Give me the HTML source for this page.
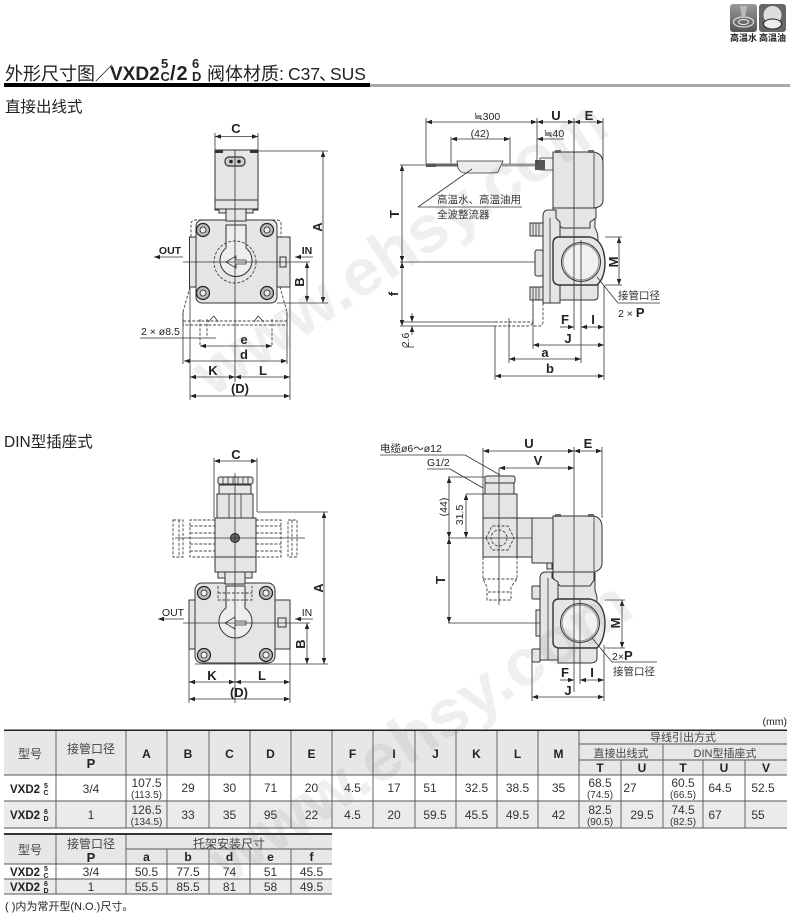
<!DOCTYPE html>
<html><head><meta charset="utf-8">
<style>
html,body{margin:0;padding:0;background:#fff;width:790px;height:924px;overflow:hidden}
svg{display:block;filter:blur(.3px)}
text{font-family:"Liberation Sans","Noto Sans CJK SC",sans-serif;fill:#222}
.b{font-weight:bold}
.m{text-anchor:middle}
.d line,.d path.l{stroke:#333;stroke-width:.8;fill:none}
.dim{marker-start:url(#a);marker-end:url(#a)}
.o{stroke:#333;stroke-width:1;fill:#e5e5e5}
.s{stroke:#333;stroke-width:.8;fill:none}
.da{stroke:#444;stroke-width:.9;fill:none;stroke-dasharray:3 1.6}
.t line{stroke:#555;stroke-width:.9}
.lab{font-size:13px;font-weight:bold}
.cn{font-size:10.5px;fill:#333}
.tn{font-size:12px;text-anchor:middle;fill:#333}
.th{font-size:12px;font-weight:bold;text-anchor:middle}
.ts{font-size:10px;text-anchor:middle;fill:#333}
.tc{font-size:12px;text-anchor:middle;fill:#444}
</style></head><body>
<svg width="790" height="924" viewBox="0 0 790 924" xmlns="http://www.w3.org/2000/svg">
<defs>
<marker id="a" viewBox="0 0 8 6" refX="8" refY="3" markerWidth="6" markerHeight="4.5" markerUnits="userSpaceOnUse" orient="auto-start-reverse"><path d="M0 0L8 3L0 6z" fill="#222"/></marker>
<linearGradient id="g2" x1="0" y1="0" x2="0" y2="1"><stop offset="0" stop-color="#999"/><stop offset="1" stop-color="#555"/></linearGradient>
</defs>

<!-- icons -->
<rect x="730" y="4" width="27" height="28" rx="3" fill="url(#g2)"/>
<ellipse cx="743.500" cy="22" rx="10" ry="5" fill="none" stroke="#ddd" stroke-width="1.2"/>
<ellipse cx="743.500" cy="22" rx="5" ry="2.500" fill="none" stroke="#eee" stroke-width="1"/>
<path d="M740 6h7l-2 12h-3z" fill="#bbb"/>
<rect x="759" y="4" width="27" height="28" rx="3" fill="#666"/>
<ellipse cx="772.500" cy="15" rx="9" ry="9" fill="#ddd"/>
<ellipse cx="772.500" cy="24" rx="9" ry="5" fill="#eee" stroke="#222"/>
<text x="743.500" y="41" class="m" style="font-size:9px;font-weight:bold">高温水</text>
<text x="772.500" y="41" class="m" style="font-size:9px;font-weight:bold">高温油</text>

<!-- title -->
<text x="5" y="80" style="font-size:18px">外形尺寸图</text>
<text x="95" y="80" style="font-size:18px">／</text>
<text x="110" y="80" class="b" style="font-size:19px">VXD2</text>
<text x="161" y="68" class="b" style="font-size:13px">5</text>
<text x="160.500" y="81" class="b" style="font-size:13px">C</text>
<text x="170" y="80" class="b" style="font-size:20px;letter-spacing:1px">/2</text>
<text x="192" y="68" class="b" style="font-size:13px">6</text>
<text x="192" y="81" class="b" style="font-size:13px">D</text>
<text x="207" y="80" style="font-size:18px">阀体材质</text>
<text x="279" y="80" style="font-size:18px">:</text>
<text x="288" y="80" style="font-size:17.500px">C37</text>
<text x="319" y="80" style="font-size:17.500px">、</text>
<text x="330" y="80" style="font-size:17.500px">SUS</text>
<rect x="4" y="83" width="366" height="4" fill="#000"/>
<rect x="370" y="84" width="420" height="3" fill="#a8a8a8"/>
<text x="5" y="112" style="font-size:15.500px">直接出线式</text>
<text x="4" y="447" style="font-size:15.500px">DIN型插座式</text>

<!-- FRONT VIEW 1 -->
<g>
<path class="da" d="M190 287L183 312V325H287V312L280 287M183 321H287"/>
<path class="da" d="M191 237V224Q191 220 196 220H277Q281 220 281 224V237"/>
<rect class="o" x="189.500" y="237" width="8" height="50"/>
<rect class="o" x="275" y="237" width="15" height="50"/>
<rect class="o" x="196" y="220" width="81" height="83" rx="6"/>
<rect class="o" x="215" y="150" width="43" height="60"/>
<rect class="o" x="215" y="200" width="43" height="9"/>
<rect x="215" y="150" width="8" height="3" fill="#333"/><rect x="250" y="150" width="8" height="3" fill="#333"/>
<rect class="o" x="226" y="209" width="20" height="12"/>
<rect class="o" x="219" y="209" width="7" height="4"/><rect class="o" x="246" y="209" width="7" height="4"/>
<rect x="225" y="157" width="20" height="9" rx="4" fill="#ccc" stroke="#333" stroke-width="1.200"/>
<circle cx="231" cy="161.500" r="1.800" fill="#222"/><circle cx="239" cy="161.500" r="1.800" fill="#222"/>
<path class="o" style="fill:#eee" d="M226 225H246V248A16 16 0 1 1 226 248z"/>
<circle cx="235" cy="262" r="21" class="da"/>
<path class="s" d="M226 262L236 256V260H246V264H236V268z"/>
<g fill="#bbb" stroke="#222" stroke-width="1.200">
<circle cx="203" cy="230" r="6.500"/><circle cx="267" cy="230" r="6.500"/><circle cx="203" cy="293" r="6.500"/><circle cx="267" cy="293" r="6.500"/></g>
<g fill="#eee" stroke="#222" stroke-width=".8">
<circle cx="203" cy="230" r="3"/><circle cx="267" cy="230" r="3"/><circle cx="203" cy="293" r="3"/><circle cx="267" cy="293" r="3"/></g>
<rect class="o" x="280" y="257" width="6" height="10"/>
<path class="da" d="M200 319V346M207 319V338M272 319V346"/>
<path class="s" d="M208 322L214 316L218 322M254 322L258 316L264 322"/>
</g>
<g class="d">
<line x1="215" y1="133" x2="215" y2="150"/><line x1="258" y1="133" x2="258" y2="150"/>
<line class="dim" x1="215" y1="136.500" x2="258" y2="136.500"/>
<line x1="235" y1="150" x2="235" y2="382" stroke-width="1"/>
<line x1="258" y1="151" x2="328" y2="151"/><line x1="277" y1="303" x2="328" y2="303"/>
<line class="dim" x1="323" y1="151" x2="323" y2="303"/>
<line class="dim" x1="307" y1="262" x2="307" y2="302"/>
<line x1="183" y1="262" x2="310" y2="262"/>
<line x1="154" y1="257" x2="183" y2="257" marker-start="url(#a)"/>
<line x1="295" y1="257" x2="313" y2="257" marker-start="url(#a)"/>
<line x1="140" y1="338" x2="216" y2="338"/>
<line class="dim" x1="200" y1="346" x2="272" y2="346"/>
<line class="dim" x1="184" y1="361" x2="287" y2="361"/>
<line x1="183" y1="312" x2="183" y2="364"/><line x1="287" y1="312" x2="287" y2="364"/>
<line x1="190" y1="287" x2="190" y2="400"/><line x1="290" y1="287" x2="290" y2="400"/>
<line class="dim" x1="190" y1="377" x2="235" y2="377"/><line class="dim" x1="235" y1="377" x2="290" y2="377"/>
<line class="dim" x1="190" y1="396" x2="290" y2="396"/>
</g>
<text x="236" y="133" class="lab m">C</text>
<text x="170" y="254" class="m" style="font-size:10.500px;font-weight:bold">OUT</text>
<text x="307" y="254" class="m" style="font-size:10.500px;font-weight:bold">IN</text>
<text x="141" y="335" style="font-size:10.500px">2 × ø8.5</text>
<text x="244" y="344" class="lab m">e</text>
<text x="244" y="359" class="lab m">d</text>
<text x="213" y="375" class="lab m">K</text>
<text x="263" y="375" class="lab m">L</text>
<text x="240" y="393" class="lab m">(D)</text>
<text transform="translate(322,227) rotate(-90)" class="lab m">A</text>
<text transform="translate(304,282) rotate(-90)" class="lab m">B</text>

<!-- SIDE VIEW 1 -->
<g>
<path class="da" d="M533 300V320Q533 326 527 326H495M543 303V322Q543 326 539 326H533M495 322H533"/>
<path class="o" d="M560 213H595V228Q598 232 598 240V296Q598 300 594 300H560z"/>
<path class="o" d="M553 208H596V218L590 222V228H562L553 219z"/>
<path class="o" d="M548 210H556V218L560 222V303H543V217Q543 210 548 210z"/>
<line x1="550" y1="218" x2="550" y2="303" stroke="#333" stroke-width=".8"/>
<rect class="o" x="535" y="250" width="8" height="26" rx="2"/>
<rect class="o" x="530" y="223" width="13" height="13"/><rect class="o" x="530" y="287" width="13" height="13"/>
<path class="s" d="M533 223V236M536 223V236M539 223V236M533 287V300M536 287V300M539 287V300"/>
<path class="o" style="stroke-width:1.400" d="M559 237H590Q604 240 605 262Q605 278 597 285H560Q553 285 553 278V244Q553 237 559 237z"/>
<circle cx="581" cy="262" r="19.500" fill="#f1f1f1" stroke="#333" stroke-width="1"/>
<circle cx="581" cy="262" r="18" fill="none" stroke="#999" stroke-width="1.200"/>
<path class="o" d="M553 152H594Q603 154 603 163V200Q603 207 594 208H553z"/>
<line x1="594" y1="153" x2="594" y2="208" stroke="#333" stroke-width=".8"/>
<rect x="555" y="150" width="6" height="3" fill="#666"/><rect x="588" y="150" width="6" height="3" fill="#666"/>
<path class="s" d="M553 158H540V170H553"/>
<rect x="535" y="160" width="10" height="10" fill="#555"/>
<rect x="426" y="163.500" width="10" height="3.500" fill="#555"/>
<rect x="436" y="163.500" width="22" height="3" fill="#666"/>
<rect x="502" y="163.500" width="33" height="3" fill="#999"/>
<path class="o" style="fill:#ececec;stroke-width:.8" d="M457 161H503L498 172Q496 173 490 173H466Q460 173 458 168z"/>
</g>
<g class="d">
<line x1="426" y1="118" x2="426" y2="164"/><line x1="537" y1="118" x2="537" y2="163"/>
<line class="dim" x1="426" y1="122" x2="537" y2="122"/><line class="dim" x1="537" y1="122" x2="574" y2="122"/><line class="dim" x1="574" y1="122" x2="603" y2="122"/>
<line x1="603" y1="118" x2="603" y2="160"/>
<line x1="574" y1="118" x2="574" y2="330"/><line x1="581" y1="240" x2="581" y2="363"/>
<line x1="451" y1="137" x2="451" y2="163"/><line x1="510" y1="137" x2="510" y2="164"/>
<line class="dim" x1="451" y1="139" x2="510" y2="139"/>
<line x1="537" y1="139" x2="564" y2="139" marker-start="url(#a)"/>
<line x1="400" y1="165" x2="426" y2="165"/>
<line class="dim" x1="402" y1="165" x2="402" y2="262"/><line class="dim" x1="402" y1="262" x2="402" y2="326"/>
<line x1="400" y1="262" x2="535" y2="262"/>
<line x1="400" y1="322" x2="495" y2="322"/><line x1="400" y1="326" x2="495" y2="326"/>
<line x1="412" y1="313" x2="412" y2="322" marker-end="url(#a)"/><line x1="412" y1="335" x2="412" y2="326" marker-end="url(#a)"/>
<line x1="404" y1="347" x2="414" y2="347"/>
<line x1="472" y1="169" x2="418" y2="207"/><line x1="418" y1="207" x2="522" y2="207"/>
<line x1="605" y1="237" x2="622" y2="237"/><line x1="605" y1="285" x2="622" y2="285"/>
<line class="dim" x1="619" y1="237" x2="619" y2="285"/>
<line x1="597" y1="277" x2="618" y2="303"/><line x1="618" y1="303" x2="660" y2="303"/>
<line x1="560" y1="327" x2="574" y2="327" marker-end="url(#a)"/>
<line class="dim" x1="581" y1="327" x2="604" y2="327"/>
<line x1="604" y1="285" x2="604" y2="380"/>
<line class="dim" x1="533" y1="345" x2="604" y2="345"/>
<line class="dim" x1="509" y1="359" x2="581" y2="359"/>
<line class="dim" x1="495" y1="376" x2="604" y2="376"/>
<line x1="495" y1="326" x2="495" y2="380"/><line x1="509" y1="318" x2="509" y2="363"/><line x1="533" y1="300" x2="533" y2="349"/>
</g>
<text x="487" y="120" class="m" style="font-size:10.500px">≒300</text>
<text x="480" y="137" class="m" style="font-size:10.500px">(42)</text>
<text x="554" y="137" class="m" style="font-size:10.500px">≒40</text>
<text x="556" y="120" class="lab m">U</text>
<text x="589" y="120" class="lab m">E</text>
<text x="437" y="203" class="cn">高温水、高温油用</text>
<text x="437" y="218" class="cn">全波整流器</text>
<text x="618" y="299" class="cn">接管口径</text>
<text x="618" y="317" style="font-size:10.500px">2 × <tspan class="b" style="font-size:13px">P</tspan></text>
<text transform="translate(399,214) rotate(-90)" class="lab m">T</text>
<text transform="translate(398,294) rotate(-90)" class="lab m">f</text>
<text transform="translate(409,340) rotate(-90)" class="m" style="font-size:10.500px">2.6</text>
<text transform="translate(618,262) rotate(-90)" class="lab m">M</text>
<text x="565" y="324" class="lab m">F</text>
<text x="593" y="324" class="lab m">I</text>
<text x="568" y="343" class="lab m">J</text>
<text x="545" y="357" class="lab m">a</text>
<text x="550" y="373" class="lab m">b</text>

<!-- FRONT VIEW 2 -->
<g>
<path class="da" d="M215 520H190V557H215M190 526H215M190 533H215M190 544H215M190 551H215M173 520H183V557H173zM179 520V557"/>
<path class="da" d="M256 520H281V557H256M256 526H281M256 533H281M256 544H281M256 551H281M288 520H297V557H288zM292 520V557"/>
<rect class="o" x="189" y="600" width="8" height="49"/>
<rect class="o" x="273" y="600" width="17" height="49"/>
<rect class="o" x="195" y="583" width="80" height="80" rx="7"/>
<rect class="o" x="217" y="494" width="36" height="26"/>
<rect class="o" x="219" y="485" width="32" height="9"/>
<rect class="o" x="218" y="477" width="35" height="7" rx="2"/>
<path class="s" d="M223 477V484M228 477V484M233 477V484M238 477V484M243 477V484M248 477V484M229 494V518M241 494V518"/>
<rect class="o" x="215" y="518" width="41" height="39"/>
<rect class="o" x="215" y="557" width="41" height="15"/>
<rect class="o" x="225" y="572" width="20" height="12"/>
<rect class="o" x="218" y="572" width="7" height="6"/><rect class="o" x="245" y="572" width="7" height="6"/>
<circle cx="235" cy="538" r="4.500" fill="#666" stroke="#222"/>
<path class="o" style="fill:#eee" d="M226 586H245V608A16.500 16.500 0 1 1 226 608z"/>
<path class="da" d="M218 586V600H252V586M218 593H252"/>
<path class="s" d="M225 623L235 617V621H246V625H235V629z"/>
<g fill="#bbb" stroke="#222" stroke-width="1.200">
<circle cx="204" cy="593" r="6.500"/><circle cx="266" cy="593" r="6.500"/><circle cx="204" cy="655" r="6.500"/><circle cx="266" cy="655" r="6.500"/></g>
<g fill="#eee" stroke="#222" stroke-width=".8">
<circle cx="204" cy="593" r="3"/><circle cx="266" cy="593" r="3"/><circle cx="204" cy="655" r="3"/><circle cx="266" cy="655" r="3"/></g>
<rect class="o" x="278" y="618" width="8" height="9"/>
</g>
<g class="d">
<line x1="214" y1="458" x2="214" y2="518"/><line x1="257" y1="458" x2="257" y2="512"/>
<line class="dim" x1="214" y1="461" x2="257" y2="461"/>
<line x1="235" y1="473" x2="235" y2="703"/>
<line x1="175" y1="538" x2="305" y2="538"/>
<line x1="257" y1="512" x2="328" y2="512"/><line x1="195" y1="664" x2="328" y2="664"/>
<line class="dim" x1="324" y1="512" x2="324" y2="664"/>
<line class="dim" x1="307" y1="623" x2="307" y2="664"/>
<line x1="183" y1="623" x2="310" y2="623"/>
<line x1="158" y1="619" x2="184" y2="619" marker-start="url(#a)"/>
<line x1="295" y1="619" x2="313" y2="619" marker-start="url(#a)"/>
<line x1="189" y1="649" x2="189" y2="703"/><line x1="290" y1="649" x2="290" y2="703"/>
<line class="dim" x1="189" y1="682" x2="235" y2="682"/><line class="dim" x1="235" y1="682" x2="290" y2="682"/>
<line class="dim" x1="189" y1="699" x2="290" y2="699"/>
</g>
<text x="236" y="459" class="lab m">C</text>
<text x="173" y="616" class="m" style="font-size:10.500px">OUT</text>
<text x="307" y="616" class="m" style="font-size:10.500px">IN</text>
<text x="212" y="680" class="lab m">K</text>
<text x="262" y="680" class="lab m">L</text>
<text x="239" y="697" class="lab m">(D)</text>
<text transform="translate(323,588) rotate(-90)" class="lab m">A</text>
<text transform="translate(305,644) rotate(-90)" class="lab m">B</text>

<!-- SIDE VIEW 2 -->
<g>
<path class="da" d="M483 557V579L487 587V600H511V587L517 579V557M483 579H517M488 592H511"/>
<path class="o" d="M558 573H595V590L597 597V658Q597 663 590 663H558z"/>
<path class="o" d="M553 570H594V580L590 586H560L553 578z"/>
<path class="o" d="M546 572H552V578L558 582V660H540V578Q540 572 546 572z"/>
<line x1="548" y1="578" x2="548" y2="660" stroke="#333" stroke-width=".8"/>
<rect class="o" x="532" y="586" width="8" height="13" rx="1"/><rect class="o" x="532" y="649" width="8" height="13" rx="1"/>
<rect class="o" x="536" y="610" width="4" height="26"/>
<path class="o" style="stroke-width:1.400" d="M559 599H590Q604 602 605 622Q605 640 597 648H560Q553 648 553 642V605Q553 599 559 599z"/>
<circle cx="580" cy="623" r="19.500" fill="#f1f1f1" stroke="#333" stroke-width="1"/>
<circle cx="580" cy="623" r="18" fill="none" stroke="#999" stroke-width="1.200"/>
<rect class="o" x="532" y="518" width="21" height="45"/>
<rect class="o" x="517" y="518" width="15" height="39"/>
<rect class="o" x="483" y="518" width="34" height="39"/>
<path class="da" d="M486 538L492 526H508L514 538L508 550H492z"/>
<circle cx="499" cy="538" r="8" class="da"/>
<rect class="o" x="483" y="494" width="34" height="24"/>
<rect class="o" x="485" y="483" width="29" height="11"/>
<rect class="o" x="485" y="476" width="30" height="7" rx="2"/>
<path class="o" d="M553 516H594Q602 518 602 527V563Q602 570 594 572H553z"/>
<line x1="594" y1="517" x2="594" y2="571" stroke="#333" stroke-width=".8"/>
<rect x="555" y="514" width="6" height="3" fill="#666"/><rect x="588" y="514" width="6" height="3" fill="#666"/>
<rect class="o" x="547" y="563" width="5" height="6"/>
</g>
<g class="d">
<line x1="483" y1="448" x2="483" y2="494"/><line x1="574" y1="447" x2="574" y2="692"/>
<line x1="602" y1="447" x2="602" y2="518"/><line x1="580" y1="600" x2="580" y2="684"/>
<line class="dim" x1="483" y1="451" x2="574" y2="451"/><line class="dim" x1="574" y1="451" x2="602" y2="451"/>
<line class="dim" x1="499" y1="468" x2="574" y2="468"/>
<line x1="499" y1="468" x2="499" y2="605"/>
<line x1="380" y1="455" x2="465" y2="455"/><line x1="465" y1="455" x2="500" y2="475"/>
<line x1="427" y1="469" x2="450" y2="469"/><line x1="450" y1="469" x2="483" y2="488"/>
<line x1="448" y1="477" x2="485" y2="477"/><line x1="466" y1="494" x2="483" y2="494"/>
<line class="dim" x1="449" y1="477" x2="449" y2="538"/><line class="dim" x1="449" y1="538" x2="449" y2="623"/>
<line class="dim" x1="466" y1="494" x2="466" y2="538"/>
<line x1="448" y1="538" x2="532" y2="538"/>
<line x1="448" y1="623" x2="540" y2="623"/>
<line x1="605" y1="600" x2="625" y2="600"/><line x1="605" y1="648" x2="625" y2="648"/>
<line class="dim" x1="622" y1="600" x2="622" y2="648"/>
<line x1="592" y1="638" x2="612" y2="662"/><line x1="612" y1="662" x2="657" y2="662"/>
<line x1="560" y1="680" x2="574" y2="680" marker-end="url(#a)"/>
<line class="dim" x1="580" y1="680" x2="604" y2="680"/>
<line x1="604" y1="645" x2="604" y2="701"/><line x1="532" y1="662" x2="532" y2="701"/>
<line class="dim" x1="532" y1="697" x2="604" y2="697"/>
</g>
<text x="380" y="452" style="font-size:10.500px">电缆ø6〜ø12</text>
<text x="427" y="466" style="font-size:10.500px">G1/2</text>
<text x="529" y="448" class="lab m">U</text>
<text x="538" y="465" class="lab m">V</text>
<text x="588" y="448" class="lab m">E</text>
<text transform="translate(447,507) rotate(-90)" class="m" style="font-size:10.500px">(44)</text>
<text transform="translate(463,515) rotate(-90)" class="m" style="font-size:10.500px">31.5</text>
<text transform="translate(445,580) rotate(-90)" class="lab m">T</text>
<text transform="translate(620,623) rotate(-90)" class="lab m">M</text>
<text x="612" y="660" style="font-size:10.500px">2×<tspan class="b" style="font-size:13px">P</tspan></text>
<text x="613" y="675" class="cn">接管口径</text>
<text x="565" y="677" class="lab m">F</text>
<text x="592" y="677" class="lab m">I</text>
<text x="568" y="695" class="lab m">J</text>

<!-- TABLE 1 -->
<text x="787" y="725" text-anchor="end" style="font-size:10.500px">(mm)</text>
<rect x="4" y="730" width="783" height="45" fill="#e7e7e7"/>
<rect x="4" y="801" width="783" height="27" fill="#ebebeb"/>
<g class="t">
<line x1="4" y1="775" x2="787" y2="775"/><line x1="4" y1="801" x2="787" y2="801"/><line x1="4" y1="828" x2="787" y2="828"/>
<line x1="579" y1="744" x2="787" y2="744"/><line x1="579" y1="760" x2="787" y2="760"/>
<line x1="56" y1="730" x2="56" y2="828"/><line x1="126" y1="730" x2="126" y2="828"/><line x1="167" y1="730" x2="167" y2="828"/><line x1="209" y1="730" x2="209" y2="828"/><line x1="250" y1="730" x2="250" y2="828"/><line x1="291" y1="730" x2="291" y2="828"/><line x1="332" y1="730" x2="332" y2="828"/><line x1="373" y1="730" x2="373" y2="828"/><line x1="415" y1="730" x2="415" y2="828"/><line x1="456" y1="730" x2="456" y2="828"/><line x1="497" y1="730" x2="497" y2="828"/><line x1="538" y1="730" x2="538" y2="828"/><line x1="579" y1="730" x2="579" y2="828"/>
<line x1="663" y1="744" x2="663" y2="828"/>
<line x1="621" y1="760" x2="621" y2="828"/><line x1="703" y1="760" x2="703" y2="828"/><line x1="745" y1="760" x2="745" y2="828"/>
</g>
<rect x="4" y="729.500" width="783" height="1.500" fill="#222"/>
<text x="30" y="758" class="tc">型号</text>
<text x="91" y="753" class="tc">接管口径</text>
<text x="91" y="768" class="th" style="font-size:13px">P</text>
<text x="146.500" y="758" class="th">A</text><text x="188" y="758" class="th">B</text><text x="229.500" y="758" class="th">C</text><text x="270.500" y="758" class="th">D</text><text x="311.500" y="758" class="th">E</text><text x="352.500" y="758" class="th">F</text><text x="394" y="758" class="th">I</text><text x="435.500" y="758" class="th">J</text><text x="476.500" y="758" class="th">K</text><text x="517.500" y="758" class="th">L</text><text x="558.500" y="758" class="th">M</text>
<text x="683" y="741" class="tc" style="font-size:11px">导线引出方式</text>
<text x="621" y="757" class="tc" style="font-size:11px">直接出线式</text>
<text x="725" y="757" class="tc" style="font-size:11px">DIN型插座式</text>
<text x="600" y="772" class="th">T</text><text x="642" y="772" class="th">U</text><text x="683" y="772" class="th">T</text><text x="724" y="772" class="th">U</text><text x="766" y="772" class="th">V</text>

<text x="10" y="793" class="b" style="font-size:11.500px">VXD2</text>
<text x="46" y="788" class="th" style="font-size:7px">5</text><text x="46" y="795" class="th" style="font-size:7px">C</text>
<text x="10" y="819" class="b" style="font-size:11.500px">VXD2</text>
<text x="46" y="814" class="th" style="font-size:7px">6</text><text x="46" y="821" class="th" style="font-size:7px">D</text>

<text x="91" y="793" class="tn">3/4</text><text x="91" y="819" class="tn">1</text>
<text x="146.500" y="787" class="tn">107.5</text><text x="146.500" y="798" class="ts">(113.5)</text>
<text x="146.500" y="814" class="tn">126.5</text><text x="146.500" y="825" class="ts">(134.5)</text>
<text x="188" y="792" class="tn">29</text><text x="229.500" y="792" class="tn">30</text><text x="270.500" y="792" class="tn">71</text><text x="311.500" y="792" class="tn">20</text><text x="352.500" y="792" class="tn">4.5</text><text x="394" y="792" class="tn">17</text><text x="430" y="792" class="tn">51</text><text x="476.500" y="792" class="tn">32.5</text><text x="517.500" y="792" class="tn">38.5</text><text x="558.500" y="792" class="tn">35</text>
<text x="188" y="819" class="tn">33</text><text x="229.500" y="819" class="tn">35</text><text x="270.500" y="819" class="tn">95</text><text x="311.500" y="819" class="tn">22</text><text x="352.500" y="819" class="tn">4.5</text><text x="394" y="819" class="tn">20</text><text x="435" y="819" class="tn">59.5</text><text x="476.500" y="819" class="tn">45.5</text><text x="517.500" y="819" class="tn">49.5</text><text x="558.500" y="819" class="tn">42</text>
<text x="600" y="787" class="tn">68.5</text><text x="600" y="798" class="ts">(74.5)</text>
<text x="600" y="814" class="tn">82.5</text><text x="600" y="825" class="ts">(90.5)</text>
<text x="630" y="792" class="tn">27</text><text x="642" y="819" class="tn">29.5</text>
<text x="683" y="787" class="tn">60.5</text><text x="683" y="798" class="ts">(66.5)</text>
<text x="683" y="814" class="tn">74.5</text><text x="683" y="825" class="ts">(82.5)</text>
<text x="720" y="792" class="tn">64.5</text><text x="715" y="819" class="tn">67</text>
<text x="763" y="792" class="tn">52.5</text><text x="758" y="819" class="tn">55</text>

<!-- TABLE 2 -->
<rect x="4" y="834" width="328" height="30" fill="#e7e7e7"/>
<rect x="4" y="879" width="328" height="15" fill="#ebebeb"/>
<g class="t">
<line x1="4" y1="864" x2="332" y2="864"/><line x1="4" y1="879" x2="332" y2="879"/><line x1="4" y1="894" x2="332" y2="894"/>
<line x1="126" y1="849" x2="332" y2="849"/>
<line x1="56" y1="834" x2="56" y2="894"/><line x1="126" y1="834" x2="126" y2="894"/>
<line x1="167" y1="849" x2="167" y2="894"/><line x1="209" y1="849" x2="209" y2="894"/><line x1="250" y1="849" x2="250" y2="894"/><line x1="291" y1="849" x2="291" y2="894"/>
</g>
<rect x="4" y="833" width="328" height="2" fill="#333"/>
<text x="30" y="854" class="tc">型号</text>
<text x="91" y="848" class="tc">接管口径</text>
<text x="91" y="862" class="th" style="font-size:13px">P</text>
<text x="229" y="848" class="tc">托架安装尺寸</text>
<text x="146.500" y="861" class="th">a</text><text x="188" y="861" class="th">b</text><text x="229.500" y="861" class="th">d</text><text x="270.500" y="861" class="th">e</text><text x="311.500" y="861" class="th">f</text>
<text x="10" y="876" class="b" style="font-size:11.500px">VXD2</text>
<text x="46" y="871" class="th" style="font-size:7px">5</text><text x="46" y="878" class="th" style="font-size:7px">C</text>
<text x="10" y="891" class="b" style="font-size:11.500px">VXD2</text>
<text x="46" y="886" class="th" style="font-size:7px">6</text><text x="46" y="893" class="th" style="font-size:7px">D</text>
<text x="91" y="876" class="tn">3/4</text><text x="146.500" y="876" class="tn">50.5</text><text x="188" y="876" class="tn">77.5</text><text x="229.500" y="876" class="tn">74</text><text x="270.500" y="876" class="tn">51</text><text x="311.500" y="876" class="tn">45.5</text>
<text x="91" y="891" class="tn">1</text><text x="146.500" y="891" class="tn">55.5</text><text x="188" y="891" class="tn">85.5</text><text x="229.500" y="891" class="tn">81</text><text x="270.500" y="891" class="tn">58</text><text x="311.500" y="891" class="tn">49.5</text>
<text x="5" y="910" style="font-size:11px">( )内为常开型(N.O.)尺寸。</text>

<!-- watermark -->
<g style="font-size:66px;font-weight:bold">
<text transform="translate(212,398) rotate(-33.500)" textLength="480" lengthAdjust="spacingAndGlyphs" style="fill:rgba(110,110,110,.11)">www.ehsy.com</text>
<text transform="translate(228,885) rotate(-33.500)" textLength="490" lengthAdjust="spacingAndGlyphs" style="fill:rgba(110,110,110,.11)">www.ehsy.com</text>
</g>
</svg>
</body></html>
